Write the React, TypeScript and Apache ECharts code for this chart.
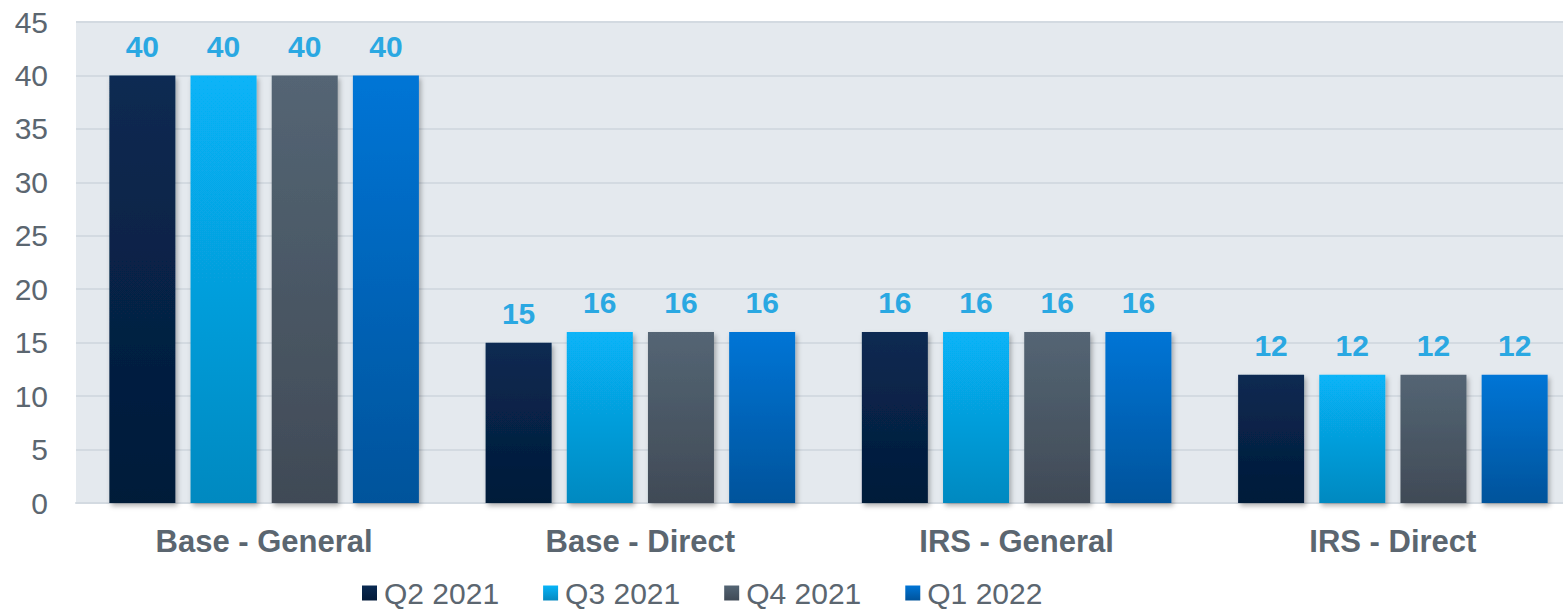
import React, { useEffect, useRef } from "react";
import * as echarts from "echarts";

const categories = ["Base - General", "Base - Direct", "IRS - General", "IRS - Direct"];
const seriesNames = ["Q2 2021", "Q3 2021", "Q4 2021", "Q1 2022"];
const q2_2021 = [40, 15, 16, 12];
const q3_2021 = [40, 16, 16, 12];
const q4_2021 = [40, 16, 16, 12];
const q1_2022 = [40, 16, 16, 12];
const yTicks = [0, 5, 10, 15, 20, 25, 30, 35, 40, 45];

const seriesData = [q2_2021, q3_2021, q4_2021, q1_2022];
const gradients: [string, string][] = [
  ["#0a2a52", "#031a39"],
  ["#07b4f8", "#0589c0"],
  ["#546574", "#404a56"],
  ["#0075d6", "#00539b"],
];

export default function App() {
  const ref = useRef<HTMLDivElement>(null);
  useEffect(() => {
    if (!ref.current) return;
    const chart = echarts.init(ref.current, null, { renderer: "svg" });
    const font = "'Liberation Sans', Arial, sans-serif";
    chart.setOption({
      animation: false,
      textStyle: { fontFamily: font },
      grid: {
        left: 76,
        top: 22,
        height: 481,
        width: 1505,
        show: true,
        backgroundColor: "#e4e9ee",
        borderWidth: 0,
        outerBoundsMode: "none",
        containLabel: false,
      },
      legend: {
        data: seriesNames,
        left: 362,
        top: 578,
        padding: 0,
        icon: "rect",
        itemWidth: 15,
        itemHeight: 15,
        itemGap: 44,
        textStyle: { color: "#5b6670", fontSize: 30, fontFamily: font, padding: [0, 0, 0, 2] },
      },
      xAxis: {
        type: "category",
        data: categories,
        axisTick: { show: false },
        axisLine: { show: true, lineStyle: { color: "#d3dae1", width: 2 } },
        axisLabel: {
          color: "#5b6670",
          fontSize: 31,
          fontWeight: "bold",
          margin: 23,
          fontFamily: font,
        },
      },
      yAxis: {
        type: "value",
        min: 0,
        max: 45,
        interval: 5,
        axisLine: { show: false },
        axisTick: { show: false },
        axisLabel: {
          color: "#5b6670",
          fontSize: 30,
          margin: 28,
          fontFamily: font,
          formatter: (v: number) => (yTicks.includes(v) ? String(v) : ""),
        },
        splitLine: { lineStyle: { color: "#d3dae1", width: 2 } },
      },
      series: seriesNames.map((name, i) => ({
        name,
        type: "bar",
        data: seriesData[i],
        barWidth: 66,
        barGap: "23%",
        itemStyle: {
          color: new echarts.graphic.LinearGradient(0, 0, 0, 1, [
            { offset: 0, color: gradients[i][0] },
            { offset: 1, color: gradients[i][1] },
          ]),
          shadowBlur: 5,
          shadowColor: "rgba(0,0,0,0.3)",
          shadowOffsetX: 2,
          shadowOffsetY: 3,
        },
        label: {
          show: true,
          position: "top",
          distance: 14,
          color: "#2aa8e2",
          fontSize: 30,
          fontWeight: "bold",
          fontFamily: font,
        },
      })),
    });
    return () => chart.dispose();
  }, []);
  return (
    <div
      ref={ref}
      style={{ position: "fixed", left: 0, top: 0, width: 1563, height: 611, background: "#ffffff" }}
    />
  );
}
